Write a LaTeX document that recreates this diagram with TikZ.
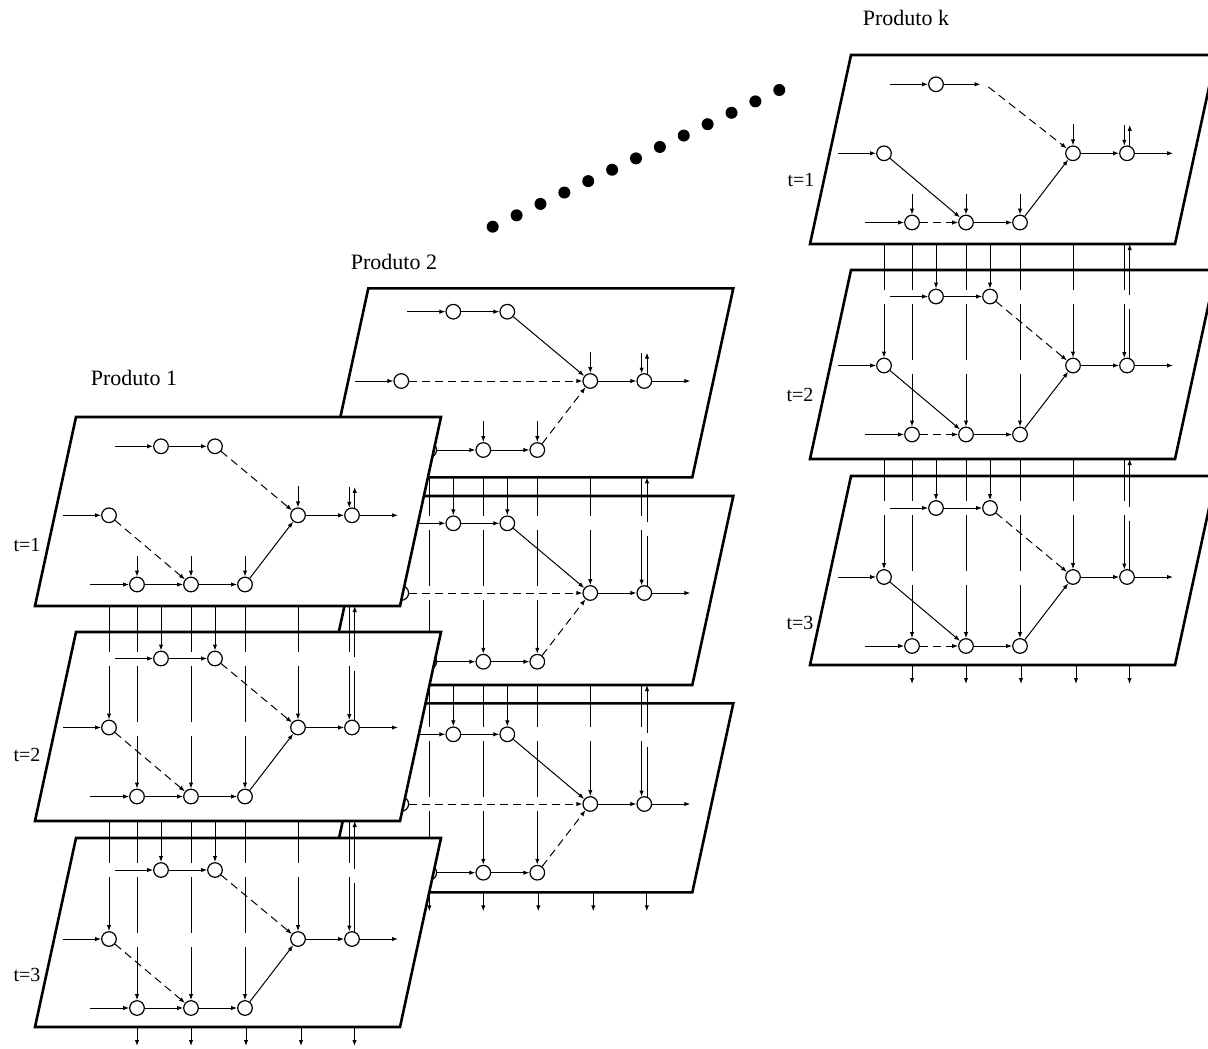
\documentclass[tikz,border=0pt]{standalone}
\usepackage{fontspec}
\setmainfont{Liberation Serif}
\usetikzlibrary{arrows.meta,calc}

\tikzset{
  plane/.style={draw, line width=1.3pt, fill=white, line join=miter},
  stage/.style={circle, draw, fill=white, line width=0.6pt, minimum size=7.3pt, inner sep=0pt},
  ghost/.style={circle, minimum size=4pt, inner sep=0pt},
  arr/.style={->, line width=0.5pt},
  dsh/.style={->, line width=0.5pt, dash pattern=on 4pt off 2.5pt},
  inv/.style={->, line width=0.5pt, dash pattern=on #1 off 7pt on 28pt off 7pt on 400pt},
  lbl/.style={font=\fontsize{11}{13}\selectfont, inner sep=0pt},
  tlbl/.style={font=\fontsize{10}{12}\selectfont, inner sep=0pt},
  >={Latex[length=3pt,width=2.2pt]}
}

% one period: plane, stages and free ends
% #1 name, #2 left x, #3 plane top, #4/#5/#6 rows, #7 style of 2nd top stage
\newcommand\layer[7]{%
  \filldraw[plane] (#2,#3) -- ++(365,0) -- ++(-41,189) -- ++(-365,0) -- cycle;
  \node[stage] (#1ta) at (#2+85,#4) {};
  \node[#7]    (#1tb) at (#2+139,#4) {};
  \node[stage] (#1ma) at (#2+33,#5) {};
  \node[stage] (#1mb) at (#2+222,#5) {};
  \node[stage] (#1mc) at (#2+276,#5) {};
  \node[stage] (#1ba) at (#2+61,#6) {};
  \node[stage] (#1bb) at (#2+115,#6) {};
  \node[stage] (#1bc) at (#2+169,#6) {};
  \coordinate (#1it) at (#2+39,#4);
  \coordinate (#1im) at (#2-13,#5);
  \coordinate (#1ib) at (#2+14,#6);
  \coordinate (#1o)  at (#2+322,#5);
  \coordinate (#1e)  at (0,#3+189);
}

% short feeds into the first period
\newcommand\feeds[1]{%
  \foreach \n in {ba,bb,bc,mb}
    \draw[arr] ([yshift=10.5pt]#1\n.north) -- (#1\n.north);
  \draw[arr] ([yshift=10.5pt]#1mc.110) -- (#1mc.110);
  \draw[arr] (#1mc.70) -- ([yshift=10.5pt]#1mc.70);
}

% links from the period above
\newcommand\links[3]{%
  \foreach \n in {ma,ba,ta,bb,tb,bc,mb}
    \draw[inv=#3] (#2\n.north |- #1e) -- (#2\n.north);
  \draw[inv=#3] (#2mc.110 |- #1e) -- (#2mc.110);
  \draw[inv=#3,<-] (#2mc.70 |- #1e) -- (#2mc.70);
}

% leaving the last period
\newcommand\outs[1]{%
  \foreach \n/\d in {ba/0,bb/0,bc/1,mb/3,mc/2.5}
    \draw[arr] ($(#1\n |- #1e)+(\d,0)$) -- ++(0,19);
}

% product 1
\newcommand\netone[1]{%
  \draw[arr] (#1it) -- (#1ta);
  \draw[arr] (#1ta) -- (#1tb);
  \draw[dsh] (#1tb) -- (#1mb);
  \draw[arr] (#1im) -- (#1ma);
  \draw[dsh] (#1ma) -- (#1bb);
  \draw[arr] (#1ib) -- (#1ba);
  \draw[arr] (#1ba) -- (#1bb);
  \draw[arr] (#1bb) -- (#1bc);
  \draw[arr] (#1bc) -- (#1mb);
  \draw[arr] (#1mb) -- (#1mc);
  \draw[arr] (#1mc) -- (#1o);
}

% product 2
\newcommand\nettwo[1]{%
  \draw[arr] (#1it) -- (#1ta);
  \draw[arr] (#1ta) -- (#1tb);
  \draw[arr] (#1tb) -- (#1mb);
  \draw[arr] (#1im) -- (#1ma);
  \draw[dsh] (#1ma) -- (#1mb);
  \draw[arr] (#1ba) -- (#1bb);
  \draw[arr] (#1bb) -- (#1bc);
  \draw[dsh] (#1bc) -- (#1mb);
  \draw[arr] (#1mb) -- (#1mc);
  \draw[arr] (#1mc) -- (#1o);
}

% product k
\newcommand\netk[1]{%
  \draw[arr] (#1it) -- (#1ta);
  \draw[arr] (#1ta) -- (#1tb);
  \draw[dsh] (#1tb) -- (#1mb);
  \draw[arr] (#1im) -- (#1ma);
  \draw[arr] (#1ma) -- (#1bb);
  \draw[arr] (#1ib) -- (#1ba);
  \draw[dsh] (#1ba) -- (#1bb);
  \draw[arr] (#1bb) -- (#1bc);
  \draw[arr] (#1bc) -- (#1mb);
  \draw[arr] (#1mb) -- (#1mc);
  \draw[arr] (#1mc) -- (#1o);
}

\begin{document}
\begin{tikzpicture}[x=0.5pt, y=-0.5pt]

  \clip (0,0) rectangle (1208,1048);

  % product k
  \layer{pkt1}{851}{55}{84.3}{153.3}{222.5}{ghost,xshift=-2.5pt}
  \netk{pkt1}
  \feeds{pkt1}
  \layer{pkt2}{851}{270}{296.5}{365.5}{434.5}{stage}
  \netk{pkt2}
  \links{pkt1}{pkt2}{22.75pt}
  \layer{pkt3}{851}{476}{508}{577}{646}{stage}
  \netk{pkt3}
  \links{pkt2}{pkt3}{21pt}
  \outs{pkt3}

  % product 2
  \layer{p2t1}{368.3}{288.3}{311.7}{381}{450}{stage}
  \nettwo{p2t1}
  \feeds{p2t1}
  \layer{p2t2}{368.3}{496}{523.3}{593}{661.7}{stage}
  \nettwo{p2t2}
  \links{p2t1}{p2t2}{19.5pt}
  \layer{p2t3}{368.3}{703.3}{734.3}{804}{872.7}{stage}
  \nettwo{p2t3}
  \links{p2t2}{p2t3}{21.15pt}
  \outs{p2t3}

  % product 1
  \layer{p1t1}{76}{417}{446.3}{515.3}{584.5}{stage}
  \netone{p1t1}
  \feeds{p1t1}
  \layer{p1t2}{76}{632}{658.5}{727.5}{796.5}{stage}
  \netone{p1t2}
  \links{p1t1}{p1t2}{22.75pt}
  \layer{p1t3}{76}{838}{870}{939}{1008}{stage}
  \netone{p1t3}
  \links{p1t2}{p1t3}{21pt}
  \outs{p1t3}

  % products in between
  \foreach \i in {0,...,12}
    \fill ({492.7+23.88*\i},{226.7-11.39*\i}) circle (3pt);

  \node[lbl] (prod1) at (134,378) {Produto 1};
  \node[lbl] (prod2) at (394,262) {Produto 2};
  \node[lbl] (prodk) at (906,18) {Produto k};

  \node[tlbl] (p1l1) at (27,545) {t=1};
  \node[tlbl] (p1l2) at (27,755) {t=2};
  \node[tlbl] (p1l3) at (27,975) {t=3};
  \node[tlbl] (pkl1) at (801,180) {t=1};
  \node[tlbl] (pkl2) at (800,395) {t=2};
  \node[tlbl] (pkl3) at (800,623) {t=3};

\end{tikzpicture}
\end{document}
